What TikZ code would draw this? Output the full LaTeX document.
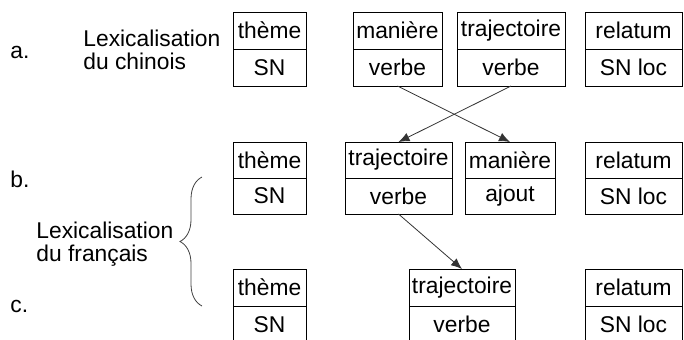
\documentclass[tikz,border=0pt]{standalone}
\usepackage{fontspec}
\setmainfont{Liberation Sans}
\usetikzlibrary{arrows.meta,decorations.pathreplacing}

\tikzset{
  cell/.style={draw, line width=0.5pt, minimum width=#1, minimum height=18.5pt, inner sep=0pt, outer sep=0pt},
  fleche/.style={line width=0.4pt, black!80, -{Latex[length=5.5pt,width=4.5pt]}},
  etiq/.style={inner sep=0pt, align=left}
}

\begin{document}
\begin{tikzpicture}[x=0.5pt,y=-0.5pt,font=\fontsize{11.4}{11.75}\selectfont]
        \clip (0,0) rectangle (684,339);

        \node[etiq, anchor=base west] (la) at (10,58) {a.};
        \node[etiq, anchor=base west] (lb) at (10,187) {b.};
        \node[etiq, anchor=base west] (lc) at (10,312) {c.};
        \node[etiq, anchor=west] (chinois) at (83,50) {Lexicalisation\\du chinois};
        \node[etiq, anchor=west] (francais) at (36,244) {Lexicalisation\\du français};

        \node[cell=36.5pt] (thA) at (269.5,30.5) {thème};
        \node[cell=36.5pt] (thAsn) at (269.5,67.5) {SN};
        \node[cell=44.5pt] (manA) at (397.5,30.5) {manière};
        \node[cell=44.5pt] (manAv) at (397.5,67.5) {verbe};
        \node[cell=54pt] (trajA) at (511,30.5) {trajectoire};
        \node[cell=54pt] (trajAv) at (511,67.5) {verbe};
        \node[cell=48.5pt] (relA) at (633.5,30.5) {relatum};
        \node[cell=48.5pt] (relAsn) at (633.5,67.5) {SN loc};

        \node[cell=36.5pt, minimum height=18pt] (thB) at (269.5,160) {thème};
        \node[cell=36.5pt, minimum height=18pt] (thBsn) at (269.5,196) {SN};
        \node[cell=53.5pt, minimum height=18pt] (trajB) at (398.5,160) {trajectoire};
        \node[cell=53.5pt, minimum height=18pt] (trajBv) at (398.5,196) {verbe};
        \node[cell=45pt, minimum height=18pt] (manB) at (510,160) {manière};
        \node[cell=45pt, minimum height=18pt] (manBaj) at (510,196) {ajout};
        \node[cell=48.5pt, minimum height=18pt] (relB) at (633.5,160) {relatum};
        \node[cell=48.5pt, minimum height=18pt] (relBsn) at (633.5,196) {SN loc};

        \node[cell=36.5pt] (thC) at (269.5,287.5) {thème};
        \node[cell=36.5pt] (thCsn) at (269.5,324.5) {SN};
        \node[cell=53pt] (trajC) at (462,287.5) {trajectoire};
        \node[cell=53pt] (trajCv) at (462,324.5) {verbe};
        \node[cell=48.5pt] (relC) at (633.5,287.5) {relatum};
        \node[cell=48.5pt] (relCsn) at (633.5,324.5) {SN loc};

        \draw[fleche] (manAv.south) -- (manB.north);
        \draw[fleche] (trajAv.south) -- (trajB.north);
        \draw[fleche] (trajBv.south) -- (trajC.north);

        \draw[line width=0.4pt, black!75, decorate, decoration={brace, amplitude=11pt}] (202,306) -- (202,177);
    \end{tikzpicture}
\end{document}
